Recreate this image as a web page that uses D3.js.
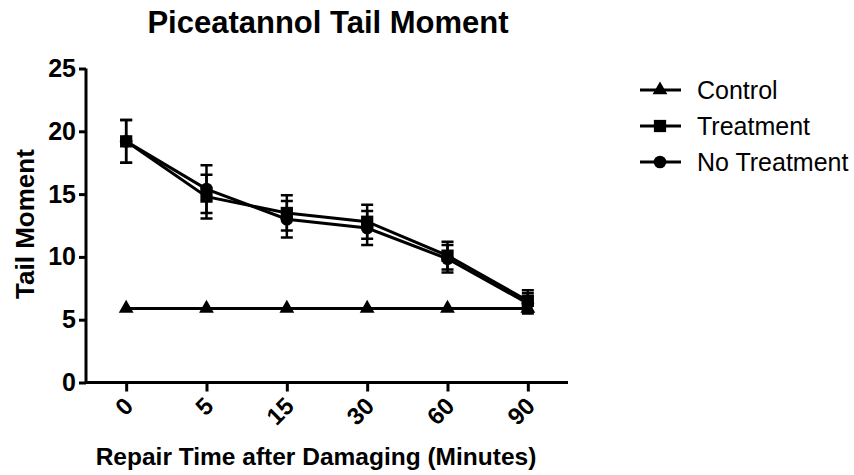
<!DOCTYPE html>
<html><head><meta charset="utf-8">
<script src="https://cdn.jsdelivr.net/npm/d3@7"></script>
<style>body{margin:0;background:#fff;} svg{display:block;} text{font-family:"Liberation Sans",Arial,sans-serif;}</style>
</head><body>
<svg id="c" width="854" height="475"></svg>
<script>
const categories = ["0","5","15","30","60","90"];
const yTicks = [0,5,10,15,20,25];
const controlVals = [5.9,5.9,5.9,5.9,5.9,5.9];
const treatmentVals = [19.2,14.8,13.5,12.8,10.1,6.5];
const treatmentErr = [1.7,1.75,1.4,1.35,1.1,0.85];
const noTreatmentVals = [19.2,15.4,13.0,12.3,9.85,6.3];
const noTreatmentErr = [1.7,1.9,1.45,1.35,1.1,0.8];
const seriesNames = ["Control","Treatment","No Treatment"];

const svg = d3.select("#c");
const x = d3.scalePoint().domain(categories).range([86,568]).padding(0.5);
const y = d3.scaleLinear().domain([0,25]).range([382.5,68.5]);

const series = [
  {name:seriesNames[0], vals:controlVals, err:null, sym:d3.symbolTriangle, size:95},
  {name:seriesNames[1], vals:treatmentVals, err:treatmentErr, sym:d3.symbolSquare, size:150},
  {name:seriesNames[2], vals:noTreatmentVals, err:noTreatmentErr, sym:d3.symbolCircle, size:125}
];

// axes
const yAxis = d3.axisLeft(y).tickValues(yTicks).tickSize(7).tickPadding(3);
const gy = svg.append("g").attr("transform","translate(86,0)").call(yAxis);
gy.select(".domain").attr("stroke","#000").attr("stroke-width",3).attr("d","M0,68.5V382.5");
gy.selectAll(".tick line").attr("stroke","#000").attr("stroke-width",3);
gy.selectAll(".tick text").attr("font-size",25).attr("font-weight","bold").attr("fill","#000");

const xAxis = d3.axisBottom(x).tickSize(9).tickFormat(d=>d);
const gx = svg.append("g").attr("transform","translate(0,382.5)").call(xAxis);
gx.select(".domain").attr("stroke","#000").attr("stroke-width",3).attr("d","M86,0H568");
gx.selectAll(".tick line").attr("stroke","#000").attr("stroke-width",3);
gx.selectAll(".tick text").attr("font-size",24).attr("font-weight","bold").attr("fill","#000")
  .attr("text-anchor","end").attr("dy",null).attr("y",0)
  .attr("transform","translate(8,25) rotate(-45)");

// series
const line = d3.line().x((d,i)=>x(categories[i])).y(d=>y(d));
series.forEach(s=>{
  const g = svg.append("g");
  g.append("path").attr("d",line(s.vals)).attr("fill","none").attr("stroke","#000").attr("stroke-width",3);
  if(s.err){
    s.vals.forEach((v,i)=>{
      const cx = x(categories[i]);
      const t = y(v+s.err[i]), b = y(v-s.err[i]);
      g.append("path").attr("d",`M${cx},${t}V${b}M${cx-6},${t}H${cx+6}M${cx-6},${b}H${cx+6}`)
        .attr("stroke","#000").attr("stroke-width",2.5).attr("fill","none");
    });
  }
  g.selectAll(".m").data(s.vals).enter().append("path")
    .attr("d",d3.symbol().type(s.sym).size(s.size))
    .attr("transform",(d,i)=>`translate(${x(categories[i])},${y(d)})`)
    .attr("fill","#000");
});

// titles
svg.append("text").attr("x",328).attr("y",33).attr("text-anchor","middle")
  .attr("font-size",31).attr("font-weight","bold").text("Piceatannol Tail Moment");
svg.append("text").attr("transform","translate(34,224) rotate(-90)").attr("text-anchor","middle")
  .attr("font-size",26).attr("font-weight","bold").text("Tail Moment");
svg.append("text").attr("x",316).attr("y",465).attr("text-anchor","middle")
  .attr("font-size",24.5).attr("font-weight","bold").text("Repair Time after Damaging (Minutes)");

// legend
const ly = [90,126,162];
series.forEach((s,i)=>{
  const g = svg.append("g").attr("transform",`translate(0,${ly[i]})`);
  g.append("line").attr("x1",640).attr("x2",681).attr("stroke","#000").attr("stroke-width",3);
  g.append("path").attr("d",d3.symbol().type(s.sym).size(s.size)).attr("transform","translate(660,0)");
  g.append("text").attr("x",697).attr("y",0).attr("dy","0.35em").attr("font-size",25).text(s.name);
});
</script>
</body></html>
